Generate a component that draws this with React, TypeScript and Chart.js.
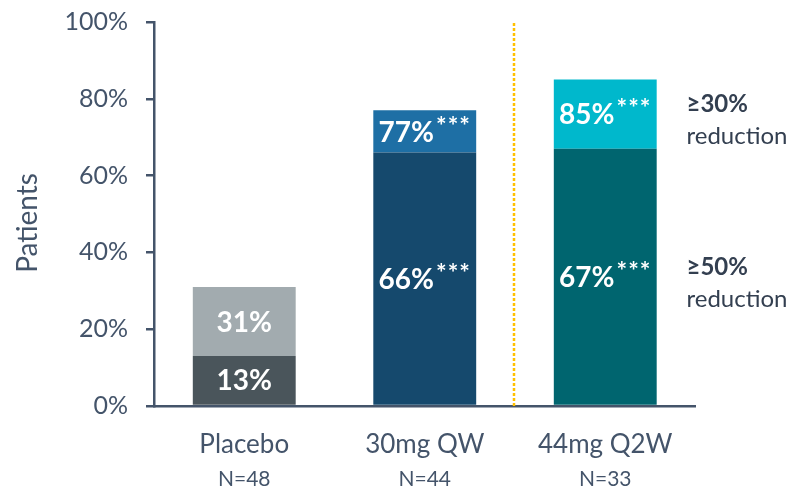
import React, { useEffect, useRef } from "react";
import { Chart, registerables } from "chart.js";

Chart.register(...registerables);

// Treatment arms and their sample sizes
const categories = ["Placebo", "30mg QW", "44mg Q2W"];
const sampleSizes = ["N=48", "N=44", "N=33"];

// Share of patients (%) reaching each reduction threshold
const reduction50 = [13, 66, 67];
const reduction30 = [31, 77, 85];
const significance = ["", "***", "***"];

// Y axis ticks
const yTicks = [0, 20, 40, 60, 80, 100];

// Threshold captions on the right
const thresholdLabels = [
  { head: "\u226530%", tail: "reduction" },
  { head: "\u226550%", tail: "reduction" },
];

const bottomColors = ["#4a555b", "#15496d", "#00656f"];
const topColors = ["#a2abaf", "#1e6fa5", "#00b8cc"];
const axisColor = "#44546a";
const FONT = "Lato, 'Open Sans', sans-serif";

const annotations = {
  id: "annotations",
  afterDatasetsDraw(chart: any) {
    const { ctx, chartArea, scales } = chart;
    const x = scales.x;
    ctx.save();

    // Dotted separator between the two dose arms
    const sepX = (x.getPixelForValue(1) + x.getPixelForValue(2)) / 2 - 1;
    ctx.strokeStyle = "#ffc000";
    ctx.lineWidth = 2.5;
    ctx.setLineDash([3, 2]);
    ctx.beginPath();
    ctx.moveTo(sepX, chartArea.top + 1);
    ctx.lineTo(sepX, chartArea.bottom);
    ctx.stroke();
    ctx.setLineDash([]);

    // Value labels centred in each segment, with significance stars raised
    const mainSize = 28;
    const supSize = 25;
    chart.data.datasets.forEach((ds: any, di: number) => {
      const meta = chart.getDatasetMeta(di);
      const values = di === 0 ? reduction50 : reduction30;
      meta.data.forEach((bar: any, i: number) => {
        const main = `${values[i]}%`;
        const sup = significance[i];
        ctx.letterSpacing = "0px";
        ctx.font = `bold ${mainSize}px ${FONT}`;
        const wMain = ctx.measureText(main).width;
        ctx.font = `bold ${supSize}px ${FONT}`;
        ctx.letterSpacing = "1px";
        const wSup = sup ? ctx.measureText(sup).width + 2 : 0;
        const total = wMain + wSup;
        const cy = (bar.y + bar.base) / 2;
        const baseline = cy + mainSize * 0.36;
        const left = bar.x - total / 2;
        ctx.fillStyle = "#ffffff";
        ctx.textAlign = "left";
        ctx.textBaseline = "alphabetic";
        ctx.letterSpacing = "0px";
        ctx.font = `bold ${mainSize}px ${FONT}`;
        ctx.fillText(main, left, baseline);
        if (sup) {
          ctx.font = `bold ${supSize}px ${FONT}`;
          ctx.letterSpacing = "1px";
          ctx.fillText(sup, left + wMain + 2, baseline - 7);
          ctx.letterSpacing = "0px";
        }
      });
    });

    // Category labels and sample sizes under the axis
    ctx.fillStyle = axisColor;
    ctx.textAlign = "center";
    ctx.textBaseline = "alphabetic";
    categories.forEach((c, i) => {
      const px = x.getPixelForValue(i);
      ctx.font = `${26}px ${FONT}`;
      ctx.fillText(c, px, chartArea.bottom + 47);
      ctx.font = `${21}px ${FONT}`;
      ctx.fillText(sampleSizes[i], px, chartArea.bottom + 80);
    });

    // Y axis title
    ctx.save();
    ctx.translate(37, (chartArea.top + chartArea.bottom) / 2 + 9);
    ctx.rotate(-Math.PI / 2);
    ctx.font = `${28}px ${FONT}`;
    ctx.fillText("Patients", 0, 0);
    ctx.restore();

    // Threshold captions
    const y = scales.y;
    const capX = chartArea.right - 9;
    const heads = [y.getPixelForValue(76.5), y.getPixelForValue(34)];
    ctx.textAlign = "left";
    ctx.fillStyle = "#333f50";
    thresholdLabels.forEach((t, i) => {
      ctx.font = `bold ${24}px ${FONT}`;
      ctx.fillText(t.head, capX, heads[i]);
      ctx.font = `${24}px ${FONT}`;
      ctx.fillText(t.tail, capX, heads[i] + 32);
    });

    ctx.restore();
  },
};

export default function App() {
  const ref = useRef<HTMLCanvasElement>(null);

  useEffect(() => {
    document.body.style.margin = "0";
    const canvas = ref.current;
    if (!canvas) return;
    const chart = new Chart(canvas, {
      type: "bar",
      data: {
        labels: categories,
        datasets: [
          {
            label: "\u226550% reduction",
            data: reduction50.map((v) => [0, v]) as any,
            backgroundColor: bottomColors,
            borderWidth: 0,
            borderSkipped: false,
          },
          {
            label: "\u226530% reduction",
            data: reduction30.map((v, i) => [reduction50[i], v]) as any,
            backgroundColor: topColors,
            borderWidth: 0,
            borderSkipped: false,
          },
        ],
      },
      options: {
        responsive: false,
        animation: false,
        devicePixelRatio: 1,
        layout: { padding: { top: 22, right: 96.5, left: 0, bottom: 0 } },
        plugins: {
          legend: { display: false },
          tooltip: { enabled: false },
        },
        datasets: {
          bar: { categoryPercentage: 1, barPercentage: 0.57 },
        },
        scales: {
          x: {
            stacked: true,
            ticks: { display: false },
            grid: { display: true, drawOnChartArea: false, drawTicks: false },
            border: { display: true, color: axisColor, width: 2.5 },
            afterFit: (s: any) => {
              s.height = 81;
              s.paddingLeft = 0;
              s.paddingRight = 0;
            },
          },
          y: {
            min: 0,
            max: 100,
            afterBuildTicks: (s: any) => {
              s.ticks = yTicks.map((v) => ({ value: v }));
            },
            ticks: {
              callback: (v: any) => `${v}%`,
              color: axisColor,
              font: { family: FONT, size: 25 },
              padding: 18,
            },
            grid: {
              drawOnChartArea: false,
              drawTicks: true,
              tickLength: 8,
              color: axisColor,
              lineWidth: 2.5,
            },
            border: { display: true, color: axisColor, width: 2.5 },
            afterFit: (s: any) => {
              s.width = 154;
              s.paddingTop = 0;
              s.paddingBottom = 0;
            },
          },
        },
      },
      plugins: [annotations],
    });
    return () => chart.destroy();
  }, []);

  return (
    <div style={{ width: 792, height: 487 }}>
      <canvas ref={ref} width={792} height={487} />
    </div>
  );
}
